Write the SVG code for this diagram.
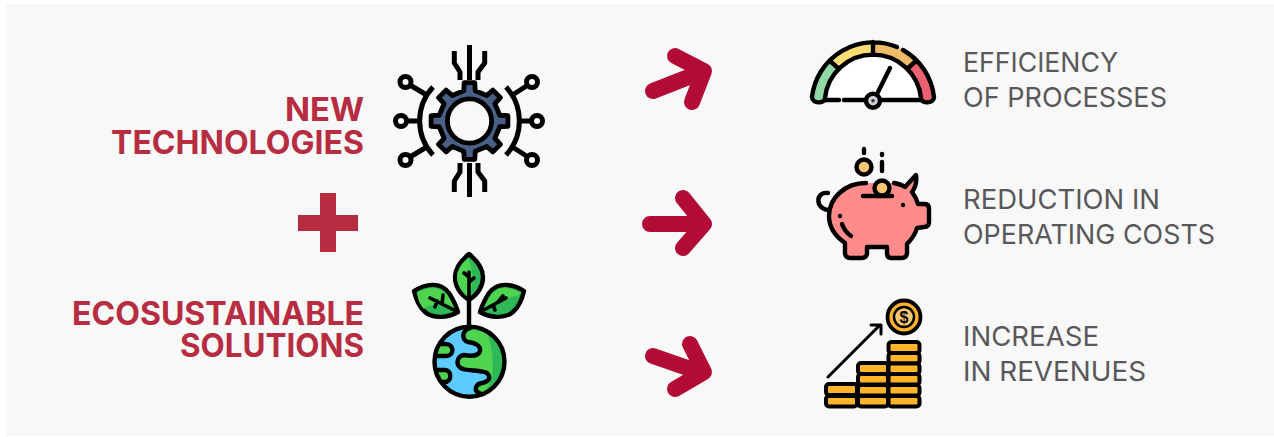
<svg xmlns="http://www.w3.org/2000/svg" width="1274" height="437" viewBox="0 0 1274 437">
<style>
.h{font-family:"Inter","Liberation Sans",sans-serif;font-weight:700;font-size:32px;fill:#b72c41}
.t{font-family:"Inter","Liberation Sans",sans-serif;font-weight:400;font-size:27.5px;fill:#58585a}
.k{fill:none;stroke:#000;stroke-width:4.4;stroke-linecap:round;stroke-linejoin:round}
.g{fill:none;stroke:#000;stroke-width:5;stroke-linejoin:round}
.ks{stroke:#000;stroke-width:4.4;stroke-linecap:round;stroke-linejoin:round}
.a{fill:none;stroke:#b10b36;stroke-width:16;stroke-linecap:round;stroke-linejoin:round}
.c{fill:#ffb42a;stroke:#000;stroke-width:4}
</style>
<defs><clipPath id="earth"><circle cx="469.5" cy="361.7" r="35"/></clipPath></defs>
<rect width="1274" height="437" fill="#fff"/>
<rect x="6" y="4" width="1268" height="432" fill="#f8f8f8"/>

<g id="title-new-technologies">
<text class="h" x="285" y="121" textLength="79" lengthAdjust="spacingAndGlyphs">NEW</text>
<text class="h" x="111" y="154" textLength="253" lengthAdjust="spacingAndGlyphs">TECHNOLOGIES</text>
</g>
<g id="plus"><path d="M320 193h16v22h22v16h-22v21h-16v-21h-22v-16h22z" fill="#b72c41"/></g>
<g id="title-ecosustainable">
<text class="h" x="72" y="325" textLength="292" lengthAdjust="spacingAndGlyphs">ECOSUSTAINABLE</text>
<text class="h" x="180" y="357" textLength="184" lengthAdjust="spacingAndGlyphs">SOLUTIONS</text>
</g>

<g id="gear-icon">
<path class="g" d="M469.500 45V80M469.500 163V197M454.300 51V63L460 72V80M484.700 51V63L478 72V80M460 163V172L454.300 181V192M478 163V172L484.700 181V192"/>
<path class="g" d="M433 87A50 50 0 0 0 433 155M506 87A50 50 0 0 1 506 155"/>
<path class="g" d="M406.500 121H420M519 121H532M410 85L425 94M410 157L425 148M528 85L514 94M528 157L514 148"/>
<g fill="#f8f8f8" stroke="#000" stroke-width="5">
<circle cx="401" cy="121" r="5.500"/><circle cx="537" cy="121" r="5.500"/><circle cx="405.500" cy="82" r="5.500"/><circle cx="532" cy="82" r="5.500"/><circle cx="405.500" cy="160" r="5.500"/><circle cx="532" cy="160" r="5.500"/>
</g>
<g transform="translate(469.500 121) scale(.96)">
<path fill="#4a5f85" stroke="#000" stroke-width="5" stroke-linejoin="round" d="M-6-31.500-5.500-40H5.500L6-31.500 18-26.500 24.400-32.200 32.200-24.400 26.500-18 31.500-6 40-5.500V5.500L31.500 6 26.500 18 32.200 24.400 24.400 32.200 18 26.500 6 31.500 5.500 40H-5.500L-6 31.500-18 26.500-24.400 32.200-32.200 24.400-26.500 18-31.500 6-40 5.500V-5.500L-31.500-6-26.500-18-32.200-24.400-24.400-32.200-18-26.500z"/>
<circle r="23" fill="#f8f8f8" stroke="#000" stroke-width="5"/>
</g>
</g>

<g id="plant-icon">
<path class="k" d="M469 285V326"/>
<path class="ks" fill="#2fb857" d="M469 254C458 263 455 270 455 277C455 288 463 296 469 300C475 296 483 288 483 277C483 270 480 263 469 254Z"/>
<path fill="#4ed44f" d="M468 258C460 265 457 271 457 277C457 287 464 294 469 298C473 290 474 270 468 258Z"/>
<path class="ks" fill="#2fb857" d="M414 291C425 284 440 281 449 293C453 299 456 306 458 312C448 318 433 319 425 312C418 306 416 298 414 291Z"/>
<path fill="#4ed44f" d="M417 293C426 288 438 285 447 295C450 299 452 303 455 310C445 302 430 304 424 309C419 304 418 298 417 293Z"/>
<path class="ks" fill="#2fb857" d="M524 291C513 284 498 281 489 293C485 299 482 306 480 312C490 318 505 319 513 312C520 306 522 298 524 291Z"/>
<path fill="#4ed44f" d="M521 293C512 288 500 285 491 295C488 299 486 303 483 310C493 300 505 298 517 296Z"/>
<path class="k" style="stroke-width:3.600" d="M469 272V300M469 277L464 273M469 282L474 278M458 312L430 298M442 304L443 295M437 301L435 307M480 312L506 298M493 305L495 310M498 302L503 296"/>
<circle cx="469.500" cy="361.700" r="35" fill="#5ccbff"/>
<g clip-path="url(#earth)">
<path fill="#4ed44f" stroke="#000" stroke-width="4.400" stroke-linejoin="round" d="M470 328C462 330 461 340 468 342C476 343 481 346 480 351C478 357 470 356 464 355C456 356 455 367 463 369C470 371 482 370 487 373C492 378 488 382 482 383C475 384 474 391 479 393C484 395 496 400 510 400V320H470Z"/>
<path fill="#2fb857" d="M484 328C492 340 495 365 491 380C488 388 484 392 480 396C486 397 496 400 510 398V320H484Z"/>
<path fill="#4ed44f" stroke="#000" stroke-width="4.400" d="M430 344H446C454 344 455 356 446 356H430Z"/>
<path fill="#4ed44f" stroke="#000" stroke-width="4.400" d="M430 370H445C452 370 452 382 445 382H430Z"/>
</g>
<circle cx="469.500" cy="361.700" r="35" class="k"/>
</g>

<g id="connectors">
<path class="a" d="M653 91L704 71M675 56L704 71L692 102"/>
<path class="a" d="M650 224H704M683 198L704 224L683 248"/>
<path class="a" d="M653 356L702 373M690 344L704 372L675 389"/>
</g>

<g id="gauge-icon">
<path fill="#fff" d="M825 100A48.250 48.250 0 0 1 921 100Z"/>
<path fill="#92d8a6" d="M812 97A61.900 61.900 0 0 1 829.500 60.500L839 69A48.250 48.250 0 0 0 825 98C825 104 812 104 812 97Z"/>
<path fill="#ffdc74" d="M829.500 60.500A61.900 61.900 0 0 1 873 42V55A48.250 48.250 0 0 0 839 69Z"/>
<path fill="#eebb66" d="M873 42A61.900 61.900 0 0 1 916.500 60.500L907 69A48.250 48.250 0 0 0 873 55Z"/>
<path fill="#ea6272" d="M916.500 60.500A61.900 61.900 0 0 1 934 97C934 104 921 104 921 98A48.250 48.250 0 0 0 907 69Z"/>
<path class="k" d="M897 47A61.900 61.900 0 0 0 812 97C812 104 825 104 825 98A48.250 48.250 0 0 1 921 98C921 104 934 104 934 97A61.900 61.900 0 0 0 903 50M873 42V55M829.500 60.500L839 69M916.500 60.500L907 69"/>
<path class="k" d="M825 100H839M844 100H867M880 100H920M878 92L890 68"/>
<circle cx="873" cy="100.700" r="7" fill="#d5d0d8" stroke="#000" stroke-width="4.400"/>
<circle cx="873" cy="100.700" r="1.800" fill="#333"/>
</g>

<g id="piggy-icon">
<path fill="#ff8b8b" d="M893 183C899 184 903 185 905 187L916 175C917 182 915 188 912 192C915 196 917 200 918 204L925 204C928 204 929 206 929 209V222C929 226 927 227 924 227L917 228C915 235 911 240 907 244V253C907 256 905 258 902 258H891C888 258 887 256 887 253V247H867V253C867 256 865 258 862 258H850C847 258 845 256 845 253V243C835 236 829 226 829 216C829 198 845 183 866 183Z"/>
<circle cx="882" cy="188" r="7.500" fill="#fcc572" stroke="#000" stroke-width="4.400"/>
<path fill="#ff8b8b" d="M860 197H895V204H860Z"/>
<path class="k" d="M894 183C899 184 902 185 905 187L916 175C917 182 915 188 912 192C915 196 917 200 918 204L925 204C928 204 929 206 929 209V222C929 226 927 227 924 227L917 228C915 235 911 240 907 244V253C907 256 905 258 902 258H891C888 258 887 256 887 253V247H867V253C867 256 865 258 862 258H850C847 258 845 256 845 253V243C835 236 829 226 829 216C829 198 845 183 866 183"/>
<path class="k" d="M863 196H892M842 224Q845 232 851 236M864 149V153M882 154V155M882 162V171M828 193C820 192 817 198 819 204C821 208 825 210 829 210"/>
<circle cx="864" cy="167" r="7.500" fill="#fcc572" stroke="#000" stroke-width="4.400"/>
<circle cx="903" cy="205" r="2.200" fill="#000"/><circle cx="840" cy="216" r="2.200" fill="#000"/>
</g>

<g id="coins-icon">
<g>
<rect class="c" x="826" y="384" width="31" height="11" rx="3"/><rect class="c" x="826" y="396" width="31" height="10.500" rx="3"/>
<rect class="c" x="858" y="363" width="30" height="11" rx="3"/><rect class="c" x="858" y="374" width="30" height="10.500" rx="3"/><rect class="c" x="858" y="385" width="30" height="10.500" rx="3"/><rect class="c" x="858" y="396" width="30" height="10.500" rx="3"/>
<rect class="c" x="888.500" y="342" width="31" height="11" rx="3"/><rect class="c" x="888.500" y="353" width="31" height="10.500" rx="3"/><rect class="c" x="888.500" y="363.500" width="31" height="10.500" rx="3"/><rect class="c" x="888.500" y="374" width="31" height="10.500" rx="3"/><rect class="c" x="888.500" y="385" width="31" height="10.500" rx="3"/><rect class="c" x="888.500" y="396" width="31" height="10.500" rx="3"/>
</g>
<path class="k" style="stroke-width:3" d="M828 377L880 325M871 325H881V334"/>
<circle cx="904" cy="317" r="16.500" fill="#ffb42a" stroke="#000" stroke-width="3.800"/>
<circle cx="904" cy="317" r="10" fill="#fcc572" stroke="#000" stroke-width="2.500"/>
<text x="904" y="323" text-anchor="middle" font-family="Liberation Sans,sans-serif" font-weight="700" font-size="16" fill="#000">$</text>
</g>

<g id="label-efficiency"><text class="t" x="963" y="72" textLength="155" lengthAdjust="spacingAndGlyphs">EFFICIENCY</text><text class="t" x="963" y="107" textLength="204" lengthAdjust="spacingAndGlyphs">OF PROCESSES</text></g>
<g id="label-reduction"><text class="t" x="963" y="209" textLength="197" lengthAdjust="spacingAndGlyphs">REDUCTION IN</text><text class="t" x="963" y="244" textLength="252" lengthAdjust="spacingAndGlyphs">OPERATING COSTS</text></g>
<g id="label-increase"><text class="t" x="963" y="346" textLength="136" lengthAdjust="spacingAndGlyphs">INCREASE</text><text class="t" x="963" y="381" textLength="183" lengthAdjust="spacingAndGlyphs">IN REVENUES</text></g>
</svg>
